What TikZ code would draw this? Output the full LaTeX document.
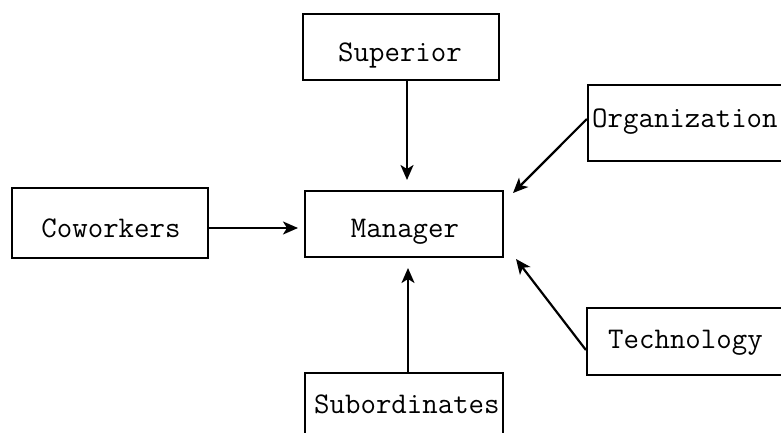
\documentclass[tikz,border=0pt]{standalone}
\usetikzlibrary{arrows.meta}
\begin{document}
\begin{tikzpicture}[x=1pt,y=-1pt,
  box/.style={draw, line width=2.2pt, inner sep=0pt},
  lbl/.style={font=\ttfamily\fontsize{30}{34}\selectfont, inner sep=0pt},
  arr/.style={line width=2.2pt, -{Stealth[length=15pt,width=13pt,inset=4pt]}}]
\useasboundingbox (0,0) rectangle (781,433);
\clip (0,0) rectangle (781,433);
% boxes
\node[box, minimum width=196pt, minimum height=66pt] (sup) at (401,47) {};
\node[box, minimum width=198pt, minimum height=66pt] (man) at (404,224) {};
\node[box, minimum width=196pt, minimum height=70pt] (cow) at (110,223) {};
\node[box, minimum width=230pt, minimum height=76pt] (org) at (703,123) {};
\node[box, minimum width=230pt, minimum height=67pt] (tec) at (702,341.5) {};
\node[box, minimum width=198pt, minimum height=80pt] (sub) at (404,413) {};
% labels
\node[lbl, anchor=base] (supt) at (400,62) {Superior};
\node[lbl, anchor=base] (mant) at (405,237) {Manager};
\node[lbl, anchor=base] (cowt) at (111,237) {Coworkers};
\node[lbl, anchor=base west] (orgt) at (592,128) {Organization};
\node[lbl, anchor=base west] (tect) at (608,348) {Technology};
\node[lbl, anchor=base west] (subt) at (314,413) {Subordinates};
% arrow tips
\coordinate (tS) at (407,180);
\coordinate (tC) at (298,228);
\coordinate (tO) at (513,193);
\coordinate (tT) at (516,259);
\coordinate (tB) at (408,268);
% connectors
\draw[arr] (sup.south -| tS) -- (tS);
\draw[arr] (cow.east |- tC) -- (tC);
\draw[arr] ([yshift=4pt]org.west) -- (tO);
\draw[arr] ([yshift=-8.5pt]tec.west) -- (tT);
\draw[arr] (sub.north -| tB) -- (tB);
\end{tikzpicture}
\end{document}
